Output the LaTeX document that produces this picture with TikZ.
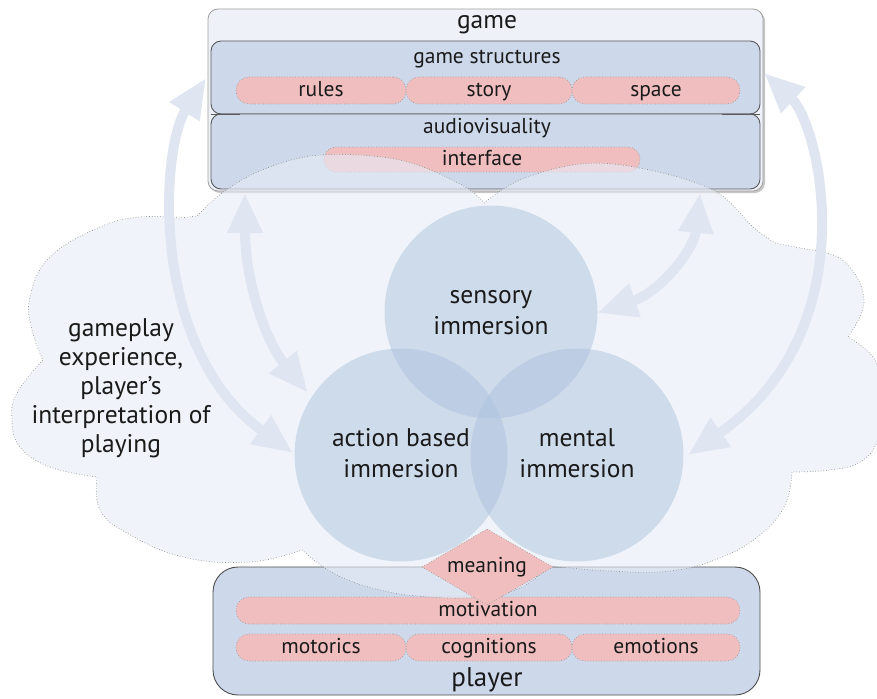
\documentclass[tikz,border=0pt]{standalone}
\usepackage{fontspec}
\setmainfont{PT Sans}
\usetikzlibrary{arrows.meta,shapes.geometric}
\definecolor{boxblue}{HTML}{CDD9EB}
\definecolor{gamebg}{HTML}{EEF2F8}
\definecolor{pillpink}{HTML}{F0BEBF}
\definecolor{cloudc}{HTML}{E6ECF6}
\definecolor{circc}{HTML}{AEC3DE}
\definecolor{arrc}{HTML}{DFE6F2}
\definecolor{txt}{HTML}{1A1A1A}
\begin{document}
\begin{tikzpicture}[x=1pt,y=-1pt,
  every node/.style={text=txt, inner sep=0pt, outer sep=0pt},
  pill/.style={draw=gray!80, dotted, line width=0.7pt, fill=pillpink, rounded corners=13pt, minimum height=27pt},
  bluebox/.style={draw=black!65, line width=0.9pt, fill=boxblue, rounded corners=10pt},
  lbl/.style={font=\fontsize{21.5}{25}\selectfont, text height=15pt, text depth=4pt},
  biglbl/.style={font=\fontsize{25.5}{31}\selectfont, align=center},
  bigarrow/.style={line width=10pt, draw=arrc, {Triangle[width=33pt,length=40pt]}-{Triangle[width=33pt,length=40pt]}},
  cloudstyle/.style={fill=cloudc, fill opacity=0.6, draw=gray!85, dotted, line width=0.7pt},
  circstyle/.style={circle, fill=circc, fill opacity=0.5, text opacity=1, minimum size=213pt}
]
\useasboundingbox (0,0) rectangle (877,698);

% ---------- game box ----------
\fill[gray!45, rounded corners=10pt] (210,11) rectangle (765,193);
\node[draw=gray!75, line width=0.8pt, fill=gamebg, rounded corners=10pt, minimum width=555pt, minimum height=182pt, anchor=north west] (game) at (208,9) {};
\node[bluebox, minimum width=549pt, minimum height=73pt, anchor=north west] (gs) at (211,41) {};
\node[bluebox, minimum width=549pt, minimum height=75pt, anchor=north west] (av) at (211,114) {};
\draw[black!65, line width=0.9pt] (211,114) -- (240,114);
\draw[black!65, line width=0.9pt] (722,114) -- (760,114);
\node[pill, minimum width=170pt] (rules) at (321,90.5) {};
\node[pill, minimum width=166pt] (story) at (489,90.5) {};
\node[pill, minimum width=168pt] (space) at (656,90.5) {};
\node[pill, minimum width=316pt, minimum height=25pt, rounded corners=12pt] (interface) at (482,159.5) {};

% ---------- player box ----------
\node[draw=black!70, line width=0.9pt, fill=boxblue, rounded corners=25pt, minimum width=547pt, minimum height=128pt, anchor=north west] (player) at (213,567) {};
\node[pill, minimum width=504pt] (motivation) at (488,610.5) {};
\node[pill, minimum width=170pt] (motorics) at (321,647.5) {};
\node[pill, minimum width=166pt] (cognitions) at (489,647.5) {};
\node[pill, minimum width=168pt] (emotions) at (656,647.5) {};

% ---------- cloud ----------
\path[cloudstyle] (484,203)
  -- plot[smooth, tension=0.6] coordinates {(484,203) (520,180) (580,164) (640,168) (713,190) (753,227) (775,243)}
  -- plot[smooth, tension=0.6] coordinates {(775,243) (795,247) (812,250)}
  -- plot[smooth, tension=0.7] coordinates {(812,250) (845,262) (864,300) (848,337)}
  -- plot[smooth, tension=0.7] coordinates {(848,337) (875,360) (886,400) (878,440) (860,462) (830,470) (792,472)}
  -- plot[smooth, tension=0.7] coordinates {(792,472) (785,505) (760,535) (720,558) (670,571) (610,571) (550,566)}
  -- plot[smooth, tension=0.7] coordinates {(550,566) (520,588) (480,597) (430,597) (380,590) (335,574) (302,550)}
  -- plot[smooth, tension=0.7] coordinates {(302,550) (250,562) (183,557) (127,533) (100,510) (97,477)}
  -- plot[smooth, tension=0.7] coordinates {(97,477) (50,467) (20,447) (12,420) (17,393) (43,360)}
  -- plot[smooth, tension=0.7] coordinates {(43,360) (32,330) (30,297) (50,257) (100,227) (140,217) (180,218)}
  -- (197,216)
  -- plot[smooth, tension=0.6] coordinates {(197,216) (222,193) (262,170) (320,155) (400,160) (462,185) (484,203)}
  -- cycle;

% ---------- arrows ----------
\coordinate (oL1) at (206,78);  \coordinate (oL2) at (293,453);
\coordinate (oR1) at (764,73);  \coordinate (oR2) at (688,455);
\coordinate (iL1) at (245,193); \coordinate (iL2) at (308,393);
\coordinate (iR1) at (700,193); \coordinate (iR2) at (597,313);
\draw[bigarrow] (oL1) .. controls (160,150) and (150,350) .. (oL2);
\draw[bigarrow] (oR1) .. controls (820,125) and (868,330) .. (oR2);
\draw[bigarrow] (iL1) .. controls (245,280) and (265,340) .. (iL2);
\draw[bigarrow] (iR1) .. controls (694,250) and (660,292) .. (iR2);

% ---------- circles ----------
\node[circstyle] (sensory) at (491,312) {};
\node[circstyle] (action) at (401,455) {};
\node[circstyle] (mental) at (577,455) {};

% ---------- meaning ----------
\fill[pillpink] (422,567) -- (487,529) -- (553,567) -- (487,605) -- cycle;
\draw[gray!80, dotted, line width=0.7pt] (422,567) -- (487,529) -- (553,567) -- (487,605) -- cycle;
\node[lbl] (meaning) at (487,567) {meaning};

% ---------- texts ----------
\node[font=\fontsize{25.5}{30}\selectfont] (gametxt) at (487,25) {game};
\node[lbl] (gstxt) at (487,58) {game structures};
\node[lbl] at (rules) {rules};
\node[lbl] at (story) {story};
\node[lbl] at (space) {space};
\node[lbl] (avtxt) at (487,128) {audiovisuality};
\node[lbl] (interfacetxt) at (interface) {interface};
\node[lbl] at (motivation) {motivation};
\node[lbl] at (motorics) {motorics};
\node[lbl] at (cognitions) {cognitions};
\node[lbl] at (emotions) {emotions};
\node[font=\fontsize{27}{30}\selectfont] (playertxt) at (487,680) {player};
\node[biglbl] (senstxt) at (491,313) {sensory\\immersion};
\node[biglbl] (acttxt) at (401,453) {action based\\immersion};
\node[biglbl] (menttxt) at (577,453) {mental\\immersion};
\node[font=\fontsize{25.5}{29}\selectfont, align=center] (gameplay) at (121,388) {gameplay\\experience,\\player’s\\interpretation of\\playing};
\end{tikzpicture}
\end{document}
